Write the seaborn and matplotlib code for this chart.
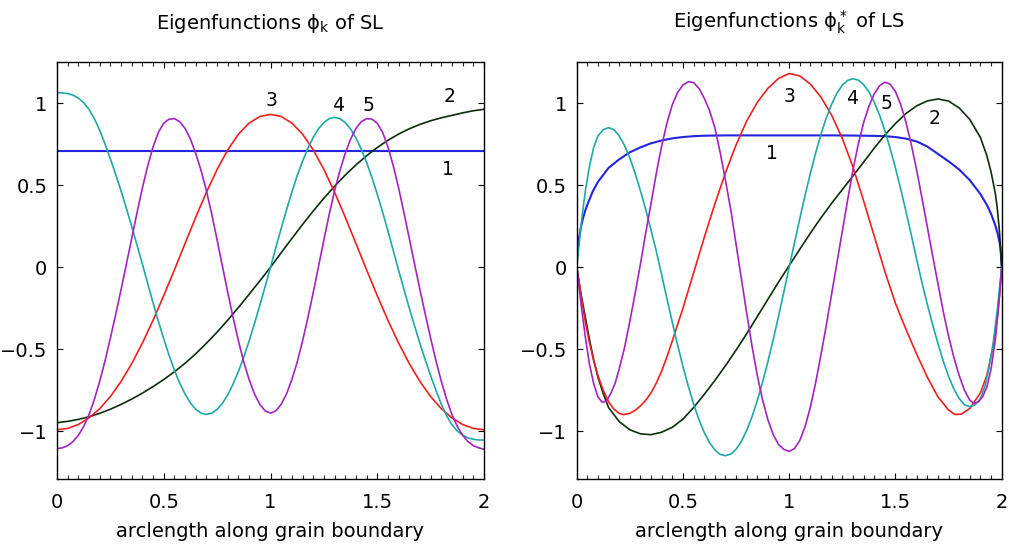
import matplotlib
matplotlib.use("Agg")
import matplotlib.pyplot as plt
from matplotlib.ticker import MultipleLocator, FuncFormatter
import seaborn as sns

# ---------------- SL eigenfunctions (left panel) ----------------
# coarse arclength grid (smooth, slowly varying modes)
s_sl = [0.0, 0.05, 0.1, 0.15, 0.2, 0.25, 0.3, 0.35, 0.4, 0.45, 0.5, 0.55, 0.6, 0.65,
        0.7, 0.75, 0.8, 0.85, 0.9, 0.95, 1.0, 1.05, 1.1, 1.15, 1.2, 1.25, 1.3, 1.35,
        1.4, 1.45, 1.5, 1.55, 1.6, 1.65, 1.7, 1.75, 1.8, 1.85, 1.9, 1.95, 2.0]
# fine arclength grid (faster oscillating modes)
s_sl_fine = [0.0, 0.025, 0.05, 0.075, 0.1, 0.125, 0.15, 0.175, 0.2, 0.225, 0.25, 0.275,
             0.3, 0.325, 0.35, 0.375, 0.4, 0.425, 0.45, 0.475, 0.5, 0.525, 0.55, 0.575,
             0.6, 0.625, 0.65, 0.675, 0.7, 0.725, 0.75, 0.775, 0.8, 0.825, 0.85, 0.875,
             0.9, 0.925, 0.95, 0.975, 1.0, 1.025, 1.05, 1.075, 1.1, 1.125, 1.15, 1.175,
             1.2, 1.225, 1.25, 1.275, 1.3, 1.325, 1.35, 1.375, 1.4, 1.425, 1.45, 1.475,
             1.5, 1.525, 1.55, 1.575, 1.6, 1.625, 1.65, 1.675, 1.7, 1.725, 1.75, 1.775,
             1.8, 1.825, 1.85, 1.875, 1.9, 1.925, 1.95, 1.975, 2.0]

sl_phi1_s = [0.0, 2.0]
sl_phi1 = [0.707, 0.707]

sl_phi2 = [-0.947, -0.939, -0.927, -0.911, -0.890, -0.865, -0.836, -0.803, -0.767, -0.727,
           -0.684, -0.637, -0.585, -0.527, -0.463, -0.395, -0.322, -0.245, -0.165, -0.083,
           0.000, 0.088, 0.175, 0.260, 0.342, 0.420, 0.493, 0.561, 0.623, 0.679,
           0.729, 0.773, 0.811, 0.843, 0.870, 0.892, 0.910, 0.925, 0.940, 0.953, 0.962]

sl_phi3 = [-0.990, -0.982, -0.958, -0.918, -0.862, -0.788, -0.696, -0.587, -0.462, -0.323,
           -0.173, -0.016, 0.145, 0.305, 0.457, 0.596, 0.715, 0.811, 0.878, 0.918,
           0.931, 0.918, 0.878, 0.811, 0.715, 0.596, 0.457, 0.305, 0.145, -0.016,
           -0.173, -0.323, -0.462, -0.587, -0.696, -0.788, -0.862, -0.918, -0.958, -0.982, -0.990]

sl_phi4 = [1.063, 1.062, 1.058, 1.048, 1.030, 1.002, 0.962, 0.905, 0.834, 0.750,
           0.660, 0.565, 0.465, 0.358, 0.249, 0.134, 0.019, -0.100, -0.217, -0.330,
           -0.437, -0.537, -0.628, -0.707, -0.773, -0.827, -0.866, -0.889, -0.897, -0.889,
           -0.866, -0.829, -0.777, -0.711, -0.634, -0.546, -0.449, -0.343, -0.232, -0.117,
           0.000,
           0.119, 0.236, 0.349, 0.457, 0.558, 0.645, 0.724, 0.791, 0.844, 0.881,
           0.905, 0.913, 0.905, 0.881, 0.842, 0.787, 0.720, 0.639, 0.547, 0.445,
           0.336, 0.221, 0.102, -0.019, -0.134, -0.249, -0.358, -0.465, -0.565, -0.660,
           -0.750, -0.834, -0.905, -0.960, -0.998, -1.022, -1.040, -1.048, -1.052, -1.053]

sl_phi5 = [-1.105, -1.100, -1.087, -1.062, -1.024, -0.970, -0.898, -0.805, -0.695, -0.570,
           -0.432, -0.287, -0.137, 0.018, 0.176, 0.333, 0.483, 0.618, 0.733, 0.822,
           0.877, 0.902, 0.905, 0.886, 0.845, 0.780, 0.693, 0.588, 0.465, 0.322,
           0.166, 0.005, -0.155, -0.308, -0.450, -0.578, -0.685, -0.772, -0.835, -0.875,
           -0.889,
           -0.875, -0.835, -0.772, -0.685, -0.578, -0.450, -0.308, -0.155, 0.005, 0.166,
           0.322, 0.465, 0.588, 0.693, 0.780, 0.845, 0.886, 0.905, 0.902, 0.877,
           0.822, 0.733, 0.618, 0.483, 0.333, 0.176, 0.018, -0.137, -0.287, -0.432,
           -0.570, -0.695, -0.805, -0.898, -0.970, -1.024, -1.062, -1.087, -1.100, -1.109]

# ---------------- LS eigenfunctions (right panel) ----------------
ls_phi1_s = [0.0, 0.005, 0.01, 0.02, 0.03, 0.04, 0.05, 0.075, 0.1, 0.15, 0.2, 0.25, 0.3,
             0.35, 0.4, 0.45, 0.5, 0.55, 0.6, 0.7, 0.8, 0.9, 1.0, 1.1, 1.2, 1.3, 1.4, 1.45,
             1.5, 1.55, 1.6, 1.65, 1.7, 1.75, 1.8, 1.85, 1.9, 1.93, 1.95, 1.97, 1.98, 1.99,
             1.995, 2.0]
ls_phi1 = [0.0, 0.12, 0.17, 0.245, 0.30, 0.345, 0.38, 0.46, 0.52, 0.605, 0.657, 0.70, 0.73,
           0.755, 0.772, 0.785, 0.793, 0.798, 0.801, 0.803, 0.803, 0.803, 0.803, 0.803, 0.803,
           0.802, 0.800, 0.798, 0.793, 0.783, 0.766, 0.735, 0.690, 0.645, 0.595, 0.530, 0.445,
           0.380, 0.325, 0.255, 0.210, 0.150, 0.105, 0.0]

ls_phi2_s = [0.0, 0.02, 0.04, 0.06, 0.08, 0.1, 0.125, 0.15, 0.2, 0.25, 0.3, 0.35, 0.4, 0.45,
             0.5, 0.55, 0.6, 0.65, 0.7, 0.75, 0.8, 0.85, 0.9, 0.95, 1.0, 1.05, 1.1, 1.15,
             1.2, 1.25, 1.3, 1.35, 1.4, 1.45, 1.5, 1.55, 1.6, 1.65, 1.7, 1.75, 1.8, 1.85,
             1.9, 1.93, 1.95, 1.97, 1.98, 1.99, 2.0]
ls_phi2 = [0.0, -0.16, -0.30, -0.44, -0.565, -0.67, -0.77, -0.855, -0.94, -0.99, -1.015,
           -1.02, -1.005, -0.975, -0.925, -0.855, -0.775, -0.69, -0.60, -0.505, -0.405, -0.30,
           -0.195, -0.09, 0.01, 0.11, 0.208, 0.302, 0.39, 0.473, 0.556, 0.64, 0.725, 0.805,
           0.875, 0.937, 0.983, 1.013, 1.025, 1.012, 0.97, 0.90, 0.79, 0.68, 0.58, 0.45,
           0.35, 0.21, 0.0]

ls_phi3_s = [0.0, 0.02, 0.04, 0.06, 0.08, 0.1, 0.125, 0.15, 0.175, 0.2, 0.22, 0.25, 0.275,
             0.3, 0.325, 0.35, 0.375, 0.4, 0.425, 0.45, 0.5, 0.55, 0.6, 0.65, 0.7, 0.75,
             0.8, 0.85, 0.9, 0.95, 1.0, 1.05, 1.1, 1.15, 1.2, 1.25, 1.3, 1.35, 1.4, 1.45,
             1.5, 1.55, 1.6, 1.65, 1.7, 1.75, 1.78, 1.81, 1.85, 1.9, 1.93, 1.96, 1.98,
             1.99, 2.0]
ls_phi3 = [0.0, -0.17, -0.33, -0.46, -0.57, -0.66, -0.75, -0.82, -0.865, -0.89, -0.898,
           -0.89, -0.872, -0.845, -0.81, -0.765, -0.705, -0.632, -0.545, -0.448, -0.25,
           -0.035, 0.18, 0.385, 0.575, 0.745, 0.89, 1.005, 1.09, 1.15, 1.18, 1.165, 1.115,
           1.035, 0.925, 0.785, 0.61, 0.405, 0.19, -0.025, -0.22, -0.38, -0.53, -0.67,
           -0.79, -0.87, -0.897, -0.895, -0.86, -0.765, -0.66, -0.48, -0.30, -0.17, 0.0]

ls_phi4_s = [0.0, 0.02, 0.04, 0.06, 0.08,
             0.1, 0.125, 0.15, 0.175, 0.2, 0.225, 0.25, 0.275, 0.3, 0.325, 0.35, 0.375,
             0.4, 0.425, 0.45, 0.475, 0.5, 0.525, 0.55, 0.575, 0.6, 0.625, 0.65, 0.675,
             0.7, 0.725, 0.75, 0.775, 0.8, 0.825, 0.85, 0.875, 0.9, 0.925, 0.95, 0.975,
             1.0, 1.025, 1.05, 1.075, 1.1, 1.125, 1.15, 1.175, 1.2, 1.225, 1.25, 1.275,
             1.3, 1.325, 1.35, 1.375, 1.4, 1.425, 1.45, 1.475, 1.5, 1.525, 1.55, 1.575,
             1.6, 1.625, 1.65, 1.675, 1.7, 1.725, 1.75, 1.775, 1.8, 1.825, 1.85, 1.875,
             1.9, 1.92, 1.94, 1.96, 1.98, 2.0]
ls_phi4 = [0.0, 0.25, 0.46, 0.615, 0.73,
           0.80, 0.838, 0.85, 0.838, 0.80, 0.742, 0.665, 0.572, 0.465, 0.35,
           0.225, 0.095, -0.047, -0.194, -0.337, -0.475, -0.604, -0.724, -0.832, -0.927,
           -1.006, -1.068, -1.113, -1.140, -1.148, -1.138, -1.109, -1.061, -0.994, -0.911,
           -0.812, -0.699, -0.574, -0.440, -0.297, -0.150, 0.0,
           0.150, 0.297, 0.440, 0.574, 0.699, 0.812, 0.911, 0.994, 1.061, 1.109,
           1.138, 1.148, 1.140, 1.113, 1.068, 1.006, 0.927, 0.832, 0.724, 0.604,
           0.475, 0.337, 0.194, 0.047, -0.095, -0.225, -0.350, -0.465, -0.572, -0.665,
           -0.742, -0.800, -0.838, -0.850, -0.838, -0.800,
           -0.73, -0.615, -0.46, -0.25, 0.0]

ls_phi5_s = [0.0, 0.02, 0.04, 0.06, 0.08, 0.1, 0.12, 0.14, 0.16, 0.18, 0.2,
             0.225, 0.25, 0.275, 0.3, 0.325, 0.35, 0.375, 0.4, 0.425, 0.45, 0.475, 0.5,
             0.525, 0.55, 0.575, 0.6, 0.625, 0.65, 0.675, 0.7, 0.725, 0.75, 0.775, 0.8,
             0.825, 0.85, 0.875, 0.9, 0.925, 0.95, 0.975, 1.0, 1.025, 1.05, 1.075, 1.1,
             1.125, 1.15, 1.175, 1.2, 1.225, 1.25, 1.275, 1.3, 1.325, 1.35, 1.375, 1.4,
             1.425, 1.45, 1.475, 1.5, 1.525, 1.55, 1.575, 1.6, 1.625, 1.65, 1.675, 1.7,
             1.725, 1.75, 1.775, 1.8, 1.825, 1.85,
             1.87, 1.89, 1.91, 1.93, 1.95, 1.97, 1.98, 1.99, 2.0]
ls_phi5 = [0.0, -0.22, -0.42, -0.59, -0.71, -0.79, -0.823, -0.815, -0.77, -0.71, -0.62,
           -0.49, -0.33, -0.16, 0.02, 0.21, 0.39, 0.575, 0.74, 0.88, 0.99, 1.065, 1.11,
           1.13, 1.125, 1.09, 1.03, 0.955, 0.85, 0.70, 0.53, 0.35, 0.14, -0.07, -0.28,
           -0.48, -0.66, -0.81, -0.93, -1.02, -1.08, -1.11, -1.122, -1.105, -1.055, -0.97,
           -0.85, -0.70, -0.53, -0.35, -0.16, 0.03, 0.22, 0.41, 0.59, 0.75, 0.88, 0.98,
           1.055, 1.105, 1.127, 1.115, 1.07, 0.99, 0.88, 0.745, 0.59, 0.42, 0.245, 0.07,
           -0.10, -0.27, -0.42, -0.55, -0.66, -0.75, -0.81,
           -0.83, -0.82, -0.79, -0.73, -0.62, -0.44, -0.31, -0.17, 0.0]

mode_labels = ["1", "2", "3", "4", "5"]
colors = ["#2424dc", "#0c2e0c", "#f02020", "#20a8a8", "#a424c0"]

sns.set_theme(style="ticks")
plt.rcParams["font.family"] = ["DejaVu Sans"]
plt.rcParams["mathtext.fontset"] = "dejavusans"
plt.rcParams["text.color"] = "black"
plt.rcParams["axes.labelcolor"] = "black"
plt.rcParams["axes.edgecolor"] = "black"
plt.rcParams["axes.linewidth"] = 1.0

fig = plt.figure(figsize=(10.09, 5.46), dpi=100)
W, H = 1009.0, 546.0
ax_l = fig.add_axes([57 / W, 1 - 479 / H, (484 - 57) / W, (479 - 62) / H])
ax_r = fig.add_axes([576.7 / W, 1 - 479 / H, (1001.7 - 576.7) / W, (479 - 62) / H])

left_series = [(sl_phi1_s, sl_phi1), (s_sl, sl_phi2), (s_sl, sl_phi3),
               (s_sl_fine, sl_phi4), (s_sl_fine, sl_phi5)]
right_series = [(ls_phi1_s, ls_phi1), (ls_phi2_s, ls_phi2), (ls_phi3_s, ls_phi3),
                (ls_phi4_s, ls_phi4), (ls_phi5_s, ls_phi5)]

for ax, series in ((ax_l, left_series), (ax_r, right_series)):
    for k, ((xs, ys), c) in enumerate(zip(series, colors)):
        sns.lineplot(x=xs, y=ys, ax=ax, color=c, lw=1.5 if k == 0 else 1.2,
                     sort=False, estimator=None, legend=False)

# mode numbers placed next to their curves
left_label_pos = [(1.833, 0.593), (1.841, 1.038), (1.006, 1.018), (1.315, 0.982), (1.458, 0.982)]
right_label_pos = [(0.918, 0.691), (1.686, 0.905), (1.0, 1.037), (1.294, 1.027), (1.459, 0.996)]
for ax, pos in ((ax_l, left_label_pos), (ax_r, right_label_pos)):
    for lab, (x, y) in zip(mode_labels, pos):
        ax.text(x, y, lab, ha="center", va="center", fontsize=13.5, color="black")

tick_fmt = FuncFormatter(lambda v, p: f"{v:g}".replace("-", "\u2212"))
for ax in (ax_l, ax_r):
    ax.set_xlim(0, 2)
    ax.set_ylim(-1.29, 1.25)
    ax.xaxis.set_major_locator(MultipleLocator(0.5))
    ax.xaxis.set_minor_locator(MultipleLocator(0.05))
    ax.yaxis.set_major_locator(MultipleLocator(0.5))
    ax.xaxis.set_major_formatter(tick_fmt)
    ax.yaxis.set_major_formatter(tick_fmt)
    ax.tick_params(axis="both", which="major", direction="in", length=4, width=0.8,
                   top=True, right=True, labelsize=14, colors="black", pad=7)
    ax.tick_params(axis="x", which="minor", direction="in", length=3, width=0.8,
                   top=True, bottom=True)
    ax.tick_params(axis="x", which="major", pad=10)
    ax.set_xlabel("arclength along grain boundary", fontsize=14, labelpad=7)
    for sp in ax.spines.values():
        sp.set_visible(True)
        sp.set_color("black")

ax_l.set_title(r"Eigenfunctions $\mathrm{\phi_k}$ of SL", fontsize=14, pad=24)
ax_r.set_title(r"Eigenfunctions $\mathrm{\phi_k^*}$ of LS", fontsize=14, pad=24)

fig.savefig("out.png", dpi=100, facecolor="white")
